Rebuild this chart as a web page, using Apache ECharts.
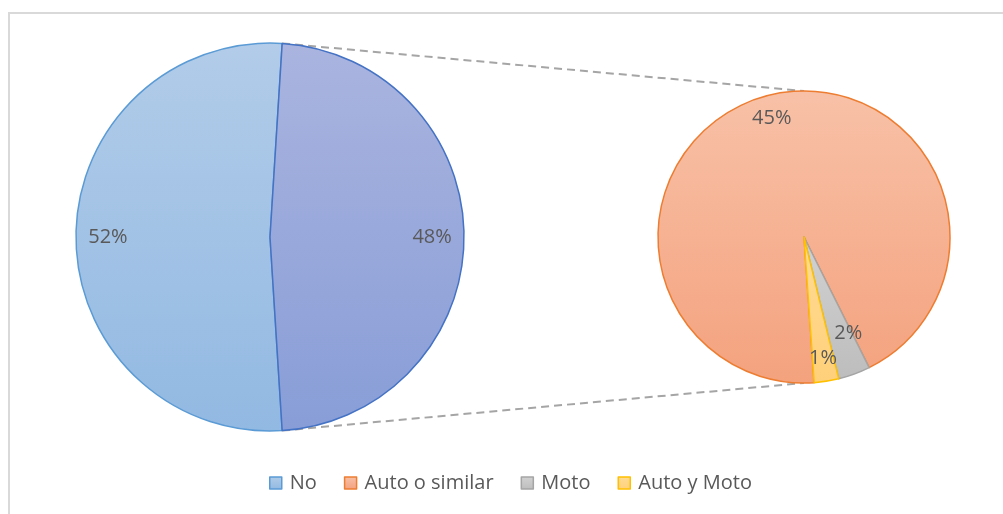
<!DOCTYPE html>
<html>
<head>
<meta charset="utf-8">
<script src="https://cdn.jsdelivr.net/npm/echarts@6/dist/echarts.min.js"></script>
<style>
  html, body { margin: 0; padding: 0; background: #fff; }
  #main { width: 1003px; height: 514px; position: relative; }
  #frame {
    position: absolute; left: 8px; top: 12px; width: 1100px; height: 600px;
    border-left: 2px solid #d9d9d9; border-top: 2px solid #d9d9d9; pointer-events: none;
  }
</style>
</head>
<body>
<div id="main"></div>
<div id="frame"></div>
<script>
// data (percent of all answers)
const categories = ['No', 'Auto o similar', 'Moto', 'Auto y Moto']
const values = [52, 45, 1.7, 1.3]
const otherName = 'Otro'

const fills = [
  ['#b2cce9', '#92b9e2'],
  ['#f8c1a7', '#f4a27e'],
  ['#d2d2d2', '#bdbdbd'],
  ['#ffdb95', '#ffd07a']
]
const borders = ['#5b9bd5', '#ed7d31', '#a5a5a5', '#ffc000']
const otherFill = ['#aab4df', '#889dd7']
const otherBorder = '#4472c4'

// geometry
const left = { cx: 270, cy: 237, r: 194 }
const right = { cx: 804, cy: 237, r: 146 }

const grad = (c) => new echarts.graphic.LinearGradient(0, 0, 0, 1, [
  { offset: 0, color: c[0] }, { offset: 1, color: c[1] }
])

const otherValue = values.slice(1).reduce((a, b) => a + b, 0)
// "other" slice centered on the right side of the main pie
const otherFrom = 90 - otherValue / 100 * 360 / 2   // clockwise from top
const otherTo = otherFrom + otherValue / 100 * 360
const leftStart = 90 - otherTo

const leftData = [
  { name: categories[0], value: values[0], itemStyle: { color: grad(fills[0]), borderColor: borders[0] } },
  { name: otherName, value: otherValue, itemStyle: { color: grad(otherFill), borderColor: otherBorder } }
]
const rightData = values.slice(1).map((v, i) => ({
  name: categories[i + 1], value: v,
  itemStyle: { color: grad(fills[i + 1]), borderColor: borders[i + 1] }
}))

const pct = (p) => Math.round(p.value) + '%'
const labelStyle = { fontFamily: 'Open Sans', fontSize: 20, color: '#595959' }

const rightStart = 274

function pieSeries(c, data, start) {
  return {
    type: 'pie', center: [c.cx, c.cy], radius: [0, c.r], startAngle: start,
    clockwise: true, animation: false, silent: true,
    itemStyle: { borderWidth: 1.5 },
    label: { show: false }, labelLine: { show: false },
    data
  }
}
function labelSeries(c, data, start, layout) {
  return {
    type: 'pie', center: [c.cx, c.cy], radius: [c.r * 0.64, c.r], startAngle: start,
    clockwise: true, animation: false, silent: true, avoidLabelOverlap: false,
    itemStyle: { color: 'transparent', borderWidth: 0 },
    label: Object.assign({ show: true, position: 'inside', formatter: pct }, labelStyle),
    labelLine: { show: false },
    labelLayout: layout || { hideOverlap: false },
    data: data.map(d => ({ name: d.name, value: d.value }))
  }
}

const pt = (c, deg) => {
  const a = deg * Math.PI / 180
  return [c.cx + c.r * Math.sin(a), c.cy - c.r * Math.cos(a)]
}
const dash = { stroke: '#a5a5a5', lineWidth: 2, lineDash: [8, 5] }
const topA = pt(left, otherFrom), botA = pt(left, otherTo)

// the Moto label sits a bit further in, like Excel's best fit
const rightLabelLayout = (p) => p.dataIndex === 1 ? { dx: 2, dy: -19, hideOverlap: false } : { hideOverlap: false }

const chart = echarts.init(document.getElementById('main'))
chart.setOption({
  backgroundColor: '#fff',
  legend: {
    data: categories, left: 269, top: 472, padding: 0, icon: 'rect',
    itemWidth: 12, itemHeight: 12, itemGap: 27,
    itemStyle: { borderWidth: 1.5 },
    textStyle: Object.assign({ lineHeight: 22, padding: [0, 0, 0, 3] }, labelStyle)
  },
  graphic: [
    { type: 'line', silent: true, z: 0, shape: { x1: topA[0], y1: topA[1], x2: right.cx, y2: right.cy - right.r }, style: dash },
    { type: 'line', silent: true, z: 0, shape: { x1: botA[0], y1: botA[1], x2: right.cx, y2: right.cy + right.r }, style: dash }
  ],
  series: [
    pieSeries(left, leftData, leftStart),
    pieSeries(right, rightData, rightStart),
    labelSeries(left, leftData, leftStart),
    labelSeries(right, rightData, rightStart, rightLabelLayout)
  ]
})
</script>
</body>
</html>
